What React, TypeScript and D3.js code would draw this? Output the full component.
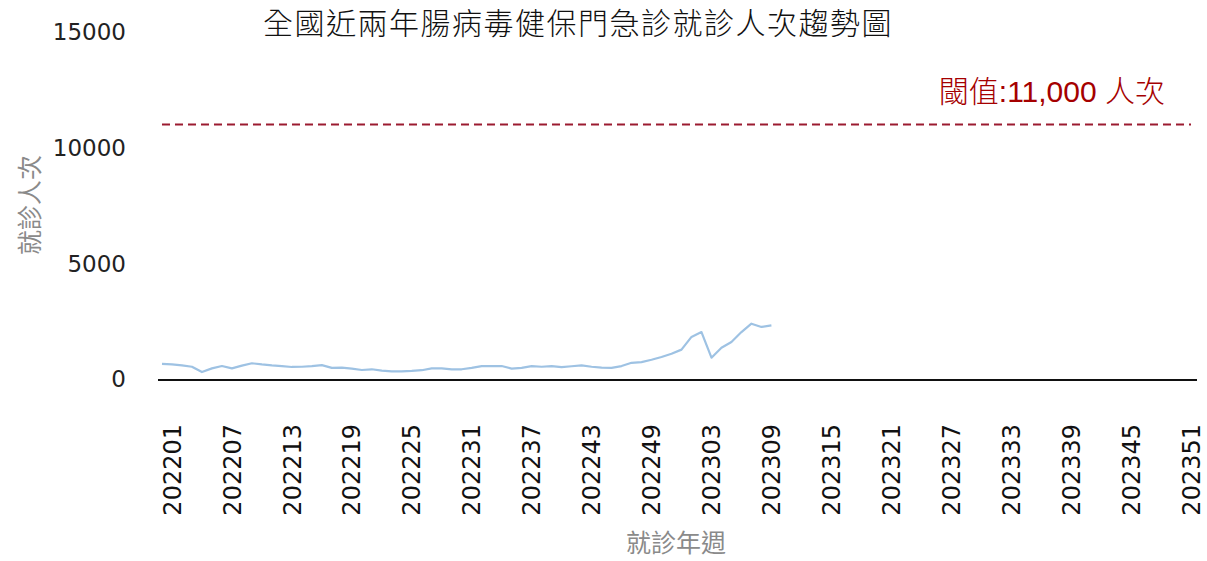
import { useEffect } from 'react'
import * as d3 from 'd3'

const weeks: string[] = [
  ...d3.range(1, 53).map(w => `2022${String(w).padStart(2, '0')}`),
  ...d3.range(1, 53).map(w => `2023${String(w).padStart(2, '0')}`)
]

// 202201 .. 202310
const visits: number[] = [
  650, 630, 590, 530, 300, 460, 560, 460, 580, 680,
  630, 590, 560, 520, 530, 560, 600, 480, 490, 450,
  390, 420, 360, 330, 330, 350, 380, 460, 460, 420,
  420, 480, 560, 560, 560, 450, 480, 560, 530, 560,
  510, 550, 590, 530, 490, 480, 560, 700, 730, 830,
  950, 1090, 1270, 1820, 2030, 920, 1350, 1600, 2030, 2390,
  2250, 2320
]

const yTicks: number[] = [0, 5000, 10000, 15000]
const xTickLabels: string[] = weeks.filter((_, i) => i % 6 === 0)
const threshold = 11000

const W = 1207
const H = 561

export default function App() {
  useEffect(() => {
    document.body.style.margin = '0'
  }, [])

  const x = d3.scaleBand<string>().domain(weeks).range([158, 1197])
  const cx = (w: string) => (x(w) ?? 0) + x.bandwidth() / 2 - 1
  const y = d3.scaleLinear().domain([0, 15000]).range([379, 32])

  const line = d3.line<number>()
    .x((_, i) => cx(weeks[i]))
    .y(d => y(d))

  const cjk = '"Noto Sans CJK TC", "Noto Sans CJK SC", sans-serif'
  const num = '"DejaVu Sans", sans-serif'

  return (
    <svg width={W} height={H} style={{ display: 'block', background: '#fff' }}>
      <text x={578} y={34} textAnchor="middle" fontFamily={cjk} fontSize={30} fontWeight={300} letterSpacing={1.5} fill="#111">
        全國近兩年腸病毒健保門急診就診人次趨勢圖
      </text>

      {yTicks.map(t => (
        <text key={t} x={126} y={y(t)} dy="0.36em" textAnchor="end" fontFamily={num} fontSize={23} fill="#222">
          {t}
        </text>
      ))}

      <text
        transform={`translate(30,${205}) rotate(-90)`}
        textAnchor="middle"
        dy="0.35em"
        fontFamily={cjk}
        fontSize={25}
        fill="#8a8a8a"
      >
        就診人次
      </text>

      <line
        x1={cx(weeks[0])}
        x2={cx(weeks[weeks.length - 1])}
        y1={y(threshold)}
        y2={y(threshold)}
        stroke="#9b1b30"
        strokeWidth={2}
        strokeDasharray="8,5"
      />
      <text x={1165} y={102} textAnchor="end" fill="#a50000" fontSize={30}>
        <tspan fontFamily={cjk} fontWeight={300}>閾值</tspan>
        <tspan fontFamily='"Liberation Sans", Arial, sans-serif'>:11,000 </tspan>
        <tspan fontFamily={cjk} fontWeight={300}>人次</tspan>
      </text>

      <path d={line(visits) ?? ''} fill="none" stroke="#9ec2e3" strokeWidth={2.2} strokeLinejoin="round" />

      <line x1={158} x2={1197} y1={y(0) + 1} y2={y(0) + 1} stroke="#111" strokeWidth={2} />

      {xTickLabels.map(w => (
        <text
          key={w}
          transform={`translate(${cx(w) + 10},${424}) rotate(-90)`}
          textAnchor="end"
          dy="0.36em"
          fontFamily={num}
          fontSize={24}
          fill="#111"
        >
          {w}
        </text>
      ))}

      <text x={676} y={552} textAnchor="middle" fontFamily={cjk} fontSize={25} fill="#8a8a8a">
        就診年週
      </text>
    </svg>
  )
}
